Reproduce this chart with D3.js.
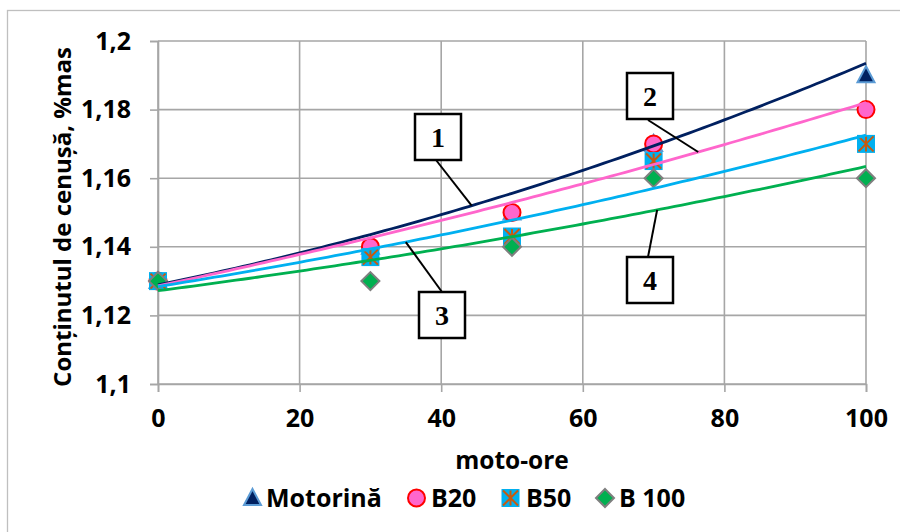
<!DOCTYPE html>
<html>
<head>
<meta charset="utf-8">
<script src="https://cdn.jsdelivr.net/npm/d3@7/dist/d3.min.js"></script>
<style>
  html, body { margin: 0; padding: 0; background: #ffffff; }
  svg { display: block; }
  text { font-family: "Open Sans", "Noto Sans", sans-serif; font-weight: 700; fill: #000; }
</style>
</head>
<body>
<svg id="chart" width="900" height="532"></svg>
<script>
// Running hours (moto-ore) at which ash content was measured
const hours = [0, 30, 50, 70, 100];

// Ash content, %mas, per fuel
const seriesNames = ["Motorină", "B20", "B50", "B 100"];
const motorina = [1.13, 1.14, 1.15, 1.17, 1.19];
const b20      = [1.13, 1.14, 1.15, 1.17, 1.18];
const b50      = [1.13, 1.137, 1.143, 1.165, 1.17];
const b100     = [1.13, 1.13, 1.14, 1.16, 1.16];

// Second-order polynomial trendlines: y = c0 + c1*x + c2*x^2
const trendC0 = [1.1289, 1.1286, 1.1284, 1.1272];
const trendC1 = [0.000422, 0.000439, 0.000333, 0.000267];
const trendC2 = [2.24e-6, 9.52e-7, 1.083e-6, 9.52e-7];
const trendLabels = ["1", "2", "3", "4"];

// Axis ticks
const xTicks = [0, 20, 40, 60, 80, 100];
const xTickLabels = ["0", "20", "40", "60", "80", "100"];
const yTicks = [1.1, 1.12, 1.14, 1.16, 1.18, 1.2];
const yTickLabels = ["1,1", "1,12", "1,14", "1,16", "1,18", "1,2"];

const allSeries = [motorina, b20, b50, b100];

const svg = d3.select("#chart");
const W = 900, H = 532;
const plot = { left: 158, right: 866, top: 41, bottom: 384 };

const x = d3.scaleLinear().domain([0, 100]).range([plot.left, plot.right]);
const y = d3.scaleLinear().domain([1.1, 1.2]).range([plot.bottom, plot.top]);

const gridColor = "#a6a6a6";

// outer chart frame
svg.append("rect")
  .attr("x", 7.5).attr("y", 10.5)
  .attr("width", W).attr("height", H)
  .attr("fill", "none").attr("stroke", "#bfbfbf").attr("stroke-width", 1.3);

// gridlines
const grid = svg.append("g");
grid.selectAll("line.h").data(yTicks).join("line")
  .attr("x1", plot.left).attr("x2", plot.right)
  .attr("y1", d => y(d)).attr("y2", d => y(d))
  .attr("stroke", gridColor).attr("stroke-width", 1.6);
grid.selectAll("line.v").data(xTicks).join("line")
  .attr("x1", d => x(d)).attr("x2", d => x(d))
  .attr("y1", plot.top).attr("y2", plot.bottom)
  .attr("stroke", gridColor).attr("stroke-width", 1.6);

// axes
const xAxis = d3.axisBottom(x).tickValues(xTicks)
  .tickFormat((d, i) => xTickLabels[i]).tickSize(8).tickPadding(17);
const yAxis = d3.axisLeft(y).tickValues(yTicks)
  .tickFormat((d, i) => yTickLabels[i]).tickSize(8).tickPadding(19);

const gx = svg.append("g").attr("transform", `translate(0,${plot.bottom})`).call(xAxis);
const gy = svg.append("g").attr("transform", `translate(${plot.left},0)`).call(yAxis);
[gx, gy].forEach(g => {
  g.select(".domain").attr("stroke", gridColor).attr("stroke-width", 1.6);
  g.selectAll(".tick line").attr("stroke", gridColor).attr("stroke-width", 1.6);
  g.selectAll(".tick text")
    .style("font-family", '"Open Sans", sans-serif')
    .style("font-weight", 700)
    .style("font-size", "25px")
    .attr("fill", "#000");
});

// axis titles
svg.append("text")
  .attr("x", (plot.left + plot.right) / 2).attr("y", 469)
  .attr("text-anchor", "middle").style("font-size", "24.5px")
  .text("moto-ore");
svg.append("text")
  .attr("transform", "translate(71,217) rotate(-90)")
  .attr("text-anchor", "middle").style("font-size", "24px")
  .text("Conținutul de cenușă, %mas");

// marker drawers
const markers = [
  function triangle(g, cx, cy) {
    g.append("path")
      .attr("d", `M${cx},${cy - 9} L${cx + 8.5},${cy + 7} L${cx - 8.5},${cy + 7} Z`)
      .attr("fill", "#002060").attr("stroke", "#5b9bd5").attr("stroke-width", 2);
  },
  function circle(g, cx, cy) {
    g.append("circle").attr("cx", cx).attr("cy", cy).attr("r", 8.5)
      .attr("fill", "#ff66cc").attr("stroke", "#ff0000").attr("stroke-width", 2);
  },
  function star(g, cx, cy) {
    const s = 9;
    g.append("rect").attr("x", cx - s).attr("y", cy - s).attr("width", 2 * s).attr("height", 2 * s)
      .attr("fill", "#00b0f0");
    const c = "#c55a11", k = 7.5;
    g.append("path")
      .attr("d", `M${cx - k},${cy - k} L${cx + k},${cy + k} M${cx + k},${cy - k} L${cx - k},${cy + k} M${cx},${cy - k} L${cx},${cy + k}`)
      .attr("stroke", c).attr("stroke-width", 2).attr("fill", "none");
  },
  function diamond(g, cx, cy) {
    const s = 9;
    g.append("path")
      .attr("d", `M${cx},${cy - s} L${cx + s},${cy} L${cx},${cy + s} L${cx - s},${cy} Z`)
      .attr("fill", "#00b050").attr("stroke", "#7f7f7f").attr("stroke-width", 2);
  }
];
const lineColors = ["#002060", "#ff66cc", "#00b0f0", "#00b050"];

// data markers
const markG = svg.append("g");
allSeries.forEach((vals, si) => {
  const g = markG.append("g");
  vals.forEach((v, i) => markers[si](g, x(hours[i]), y(v)));
});

// trendlines
const xs = d3.range(0, 100.01, 1);
const trendAt = (si, h) => trendC0[si] + trendC1[si] * h + trendC2[si] * h * h;
const line = d3.line().x(d => x(d[0])).y(d => y(d[1])).curve(d3.curveLinear);
allSeries.forEach((vals, si) => {
  svg.append("path")
    .datum(xs.map(h => [h, trendAt(si, h)]))
    .attr("d", line)
    .attr("fill", "none").attr("stroke", lineColors[si]).attr("stroke-width", 2.8);
});

// numbered callouts pointing at each trendline
const calloutAnchor = [44.3, 76.3, 35.0, 70.5];   // hour where each leader meets its curve
const calloutBox = [[415, 114], [627, 73], [419, 292], [627, 257]];
const calloutFoot = [[436, 160], [648, 120], [442, 292], [648, 257]];
const boxSize = 46;
const cg = svg.append("g");
trendLabels.forEach((lab, si) => {
  const h = calloutAnchor[si];
  cg.append("line")
    .attr("x1", calloutFoot[si][0]).attr("y1", calloutFoot[si][1])
    .attr("x2", x(h)).attr("y2", y(trendAt(si, h)))
    .attr("stroke", "#000").attr("stroke-width", 2);
  cg.append("rect")
    .attr("x", calloutBox[si][0]).attr("y", calloutBox[si][1])
    .attr("width", boxSize).attr("height", boxSize)
    .attr("fill", "#fff").attr("stroke", "#000").attr("stroke-width", 2.5);
  cg.append("text")
    .attr("x", calloutBox[si][0] + boxSize / 2)
    .attr("y", calloutBox[si][1] + boxSize / 2 + 10)
    .attr("text-anchor", "middle")
    .style("font-family", '"Liberation Serif", "Times New Roman", serif')
    .style("font-size", "28px")
    .text(lab);
});

// legend
const legendItems = [
  { sym: 252.5, text: 266 },
  { sym: 416.5, text: 431 },
  { sym: 510.5, text: 526 },
  { sym: 605, text: 619 }
];
const lg = svg.append("g");
seriesNames.forEach((name, si) => {
  markers[si](lg, legendItems[si].sym, 498);
  lg.append("text")
    .attr("x", legendItems[si].text).attr("y", 507)
    .style("font-size", "25px")
    .text(name);
});
</script>
</body>
</html>
